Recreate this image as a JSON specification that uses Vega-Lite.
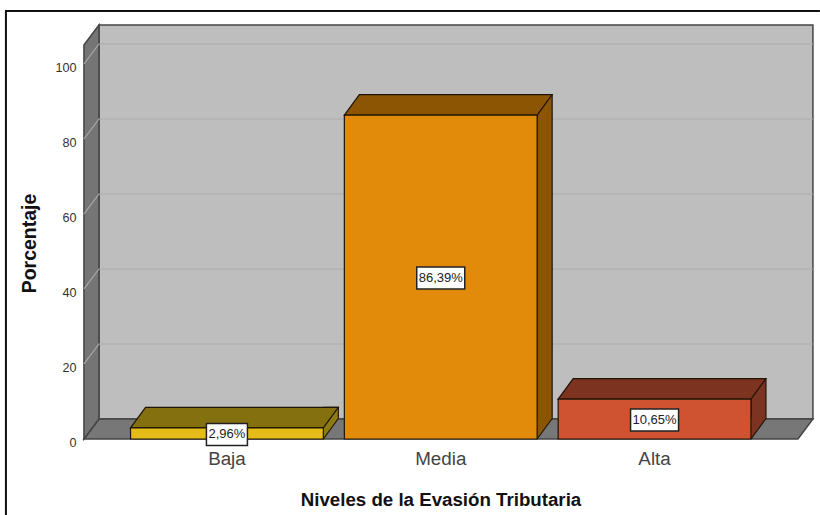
{
"$schema":"https://vega.github.io/schema/vega-lite/v6.json",
"width":729,"height":414,
"autosize":{"type":"none"},
"padding":{"left":84,"top":25,"right":7,"bottom":76},
"background":"white",
"config":{"view":{"stroke":null},"font":"Liberation Sans"},
"data":{"values":[
{"Nivel":"Baja","Porcentaje":2.96,"Etiqueta":"2,96%"},
{"Nivel":"Media","Porcentaje":86.39,"Etiqueta":"86,39%"},
{"Nivel":"Alta","Porcentaje":10.65,"Etiqueta":"10,65%"}]},
"layer":[
{"data":{"values":[{"x":"Baja","y":0}]},
 "mark":{"type":"point","filled":true,"opacity":1,"size":4,"fill":"#BEBEBE","stroke":"#444","strokeWidth":1.5,"shape":"M-128,-20L586,-20L586,-414L-128,-414Z"},
 "encoding":{"x":{"field":"x","type":"nominal","title":"Niveles de la Evasión Tributaria","sort":["Baja","Media","Alta"],"scale":{"domain":["Baja","Media","Alta"],"paddingInner":0.0983,"paddingOuter":0.2539,"align":0.4286},
   "axis":{"labelAngle":0,"domain":false,"ticks":false,"labelPadding":10,"labelFont":"Liberation Sans","labelFontSize":18.8,"labelColor":"#444","titleFont":"Liberation Sans","titleFontSize":18.7,"titleFontWeight":"bold","titleColor":"#111","titleX":356.5,"titleY":60,"titleBaseline":"middle","titleAlign":"center"}},
  "y":{"field":"y","type":"quantitative","title":"Porcentaje","scale":{"domain":[0,110.4],"nice":false},
   "axis":{"values":[0,20,40,60,80,100],"grid":false,"domain":false,"ticks":false,"labelPadding":8,"labelFont":"Liberation Sans","labelFontSize":12.6,"labelColor":"#333","labelOffset":3,"titleFont":"Liberation Sans","titleFontSize":19.5,"titleFontWeight":"bold","titleColor":"#111","titleX":-55,"titleY":218,"titleBaseline":"middle","titleAlign":"center"}}}},
{"data":{"values":[{"x":"Baja","y":0}]},
 "mark":{"type":"point","filled":true,"opacity":1,"size":4,"fill":"#777777","stroke":"#444","strokeWidth":1.5,"shape":"M-143,0L-128,-20L586,-20L571,0Z"},
 "encoding":{"x":{"field":"x","type":"nominal","axis":null},"y":{"field":"y","type":"quantitative","axis":null}}},
{"data":{"values":[{"x":"Baja","y":0}]},
 "mark":{"type":"point","filled":true,"opacity":1,"size":4,"fill":"#757575","stroke":"#444","strokeWidth":1.5,"shape":"M-143,0L-128,-20L-128,-414L-143,-394Z"},
 "encoding":{"x":{"field":"x","type":"nominal","axis":null},"y":{"field":"y","type":"quantitative","axis":null}}},
{"data":{"values":[{"x":"Baja","y":20},{"x":"Baja","y":40},{"x":"Baja","y":60},{"x":"Baja","y":80},{"x":"Baja","y":100}]},
 "mark":{"type":"point","filled":false,"opacity":1,"size":4,"stroke":"#ABABAB","strokeWidth":1.2,"shape":"M-143,0L-128,-20L586,-20"},
 "encoding":{"x":{"field":"x","type":"nominal","axis":null},"y":{"field":"y","type":"quantitative","axis":null}}},
{"data":{"values":[{"x":"Baja","y":0}]},
 "mark":{"type":"point","filled":false,"opacity":1,"size":4,"stroke":"#111","strokeWidth":2,"shape":"M-221,76L-221,-428L593,-428"},
 "encoding":{"x":{"field":"x","type":"nominal","axis":null},"y":{"field":"y","type":"quantitative","axis":null}}},
{"mark":{"type":"bar","width":15,"xOffset":103.9,"yOffset":-20.5,"stroke":"#1f1406","strokeWidth":1.2},
 "encoding":{"x":{"field":"Nivel","type":"nominal","axis":null},"y":{"field":"Porcentaje","type":"quantitative","axis":null},
 "fill":{"field":"Nivel","type":"nominal","legend":null,"scale":{"domain":["Baja","Media","Alta"],"range":["#8E7A12","#8B5503","#7C3320"]}}}},
{"mark":{"type":"point","filled":true,"opacity":1,"size":4,"strokeWidth":0,"shape":"M96.4,0L111.4,-20.5L111.4,-21.5L96.4,-21.5Z"},
 "encoding":{"x":{"field":"Nivel","type":"nominal","axis":null},"y":{"datum":0,"type":"quantitative","axis":null},
 "fill":{"field":"Nivel","type":"nominal","legend":null,"scale":{"domain":["Baja","Media","Alta"],"range":["#8E7A12","#8B5503","#7C3320"]}}}},
{"mark":{"type":"point","filled":false,"opacity":1,"size":4,"stroke":"#1f1406","strokeWidth":1.2,"shape":"M96.4,0L111.4,-20.5"},
 "encoding":{"x":{"field":"Nivel","type":"nominal","axis":null},"y":{"datum":0,"type":"quantitative","axis":null}}},
{"mark":{"type":"point","filled":true,"opacity":1,"size":4,"stroke":"#1f1406","strokeWidth":1.2,"shape":"M-96.4,0L-81.4,-20.5L111.4,-20.5L96.4,0Z"},
 "encoding":{"x":{"field":"Nivel","type":"nominal","axis":null},"y":{"field":"Porcentaje","type":"quantitative","axis":null},
 "fill":{"field":"Nivel","type":"nominal","legend":null,"scale":{"domain":["Baja","Media","Alta"],"range":["#85700F","#8B5503","#7C3320"]}}}},
{"mark":{"type":"bar","stroke":"#1f1406","strokeWidth":1.2},
 "encoding":{"x":{"field":"Nivel","type":"nominal","axis":null},
  "y":{"field":"Porcentaje","type":"quantitative","axis":null},
  "fill":{"field":"Nivel","type":"nominal","legend":null,"scale":{"domain":["Baja","Media","Alta"],"range":["#E5BC18","#E28A0A","#CF5330"]}}}},
{"mark":{"type":"point","filled":true,"opacity":1,"size":4,"fill":"white","stroke":"#222","strokeWidth":1.5,"yOffset":1},
 "encoding":{"x":{"field":"Nivel","type":"nominal","axis":null},"y":{"field":"Porcentaje","type":"quantitative","axis":null,"stack":"zero","bandPosition":0.5},"detail":{"field":"Nivel"},
 "shape":{"field":"Nivel","type":"nominal","legend":null,"scale":{"domain":["Baja","Media","Alta"],"range":["M-20.5,-11L20.5,-11L20.5,11L-20.5,11Z","M-24,-11L24,-11L24,11L-24,11Z","M-24,-11L24,-11L24,11L-24,11Z"]}}}},
{"mark":{"type":"text","fontSize":13,"font":"Liberation Sans","color":"#222","baseline":"middle","align":"center","yOffset":1},
 "encoding":{"x":{"field":"Nivel","type":"nominal","axis":null},"y":{"field":"Porcentaje","type":"quantitative","axis":null,"stack":"zero","bandPosition":0.5},"detail":{"field":"Nivel"},"text":{"field":"Etiqueta"}}}
],
"resolve":{"scale":{"fill":"independent","shape":"independent"},"axis":{"x":"independent","y":"independent"}}
}
